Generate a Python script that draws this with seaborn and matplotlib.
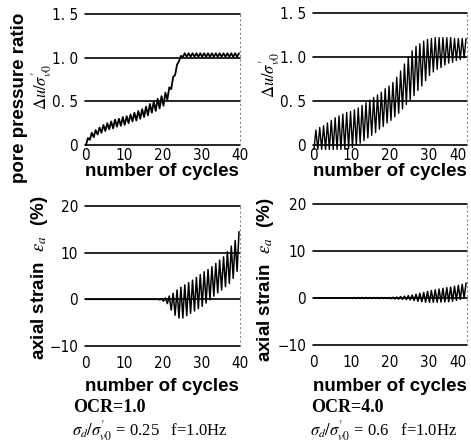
import numpy as np
import pandas as pd
import matplotlib
matplotlib.use("Agg")
import matplotlib.pyplot as plt
import seaborn as sns

# ---------------- data (per loading cycle) ----------------
cycles = list(range(40))
x_ticks = [0, 10, 20, 30, 40]

# OCR = 1.0 : pore pressure ratio, peak / trough of each cycle
pp1_upper = [0.08, 0.14, 0.17, 0.20, 0.23, 0.25, 0.27, 0.29, 0.30, 0.32,
             0.33, 0.35, 0.37, 0.39, 0.41, 0.44, 0.47, 0.50, 0.53, 0.56,
             0.60, 0.66, 0.78, 0.92, 1.02, 1.05, 1.05, 1.05, 1.05, 1.05,
             1.05, 1.05, 1.05, 1.05, 1.05, 1.05, 1.05, 1.05, 1.05, 1.05]
pp1_lower = [0.00, 0.06, 0.09, 0.12, 0.14, 0.16, 0.18, 0.19, 0.21, 0.22,
             0.23, 0.25, 0.27, 0.28, 0.30, 0.32, 0.34, 0.37, 0.39, 0.42,
             0.45, 0.52, 0.64, 0.80, 0.96, 1.01, 1.01, 1.01, 1.01, 1.01,
             1.01, 1.01, 1.01, 1.01, 1.01, 1.01, 1.01, 1.01, 1.01, 1.01]

# OCR = 4.0 : pore pressure ratio
pp4_upper = [0.17, 0.20, 0.22, 0.25, 0.28, 0.31, 0.33, 0.35, 0.37, 0.38,
             0.40, 0.42, 0.45, 0.48, 0.51, 0.54, 0.57, 0.60, 0.64, 0.67,
             0.71, 0.77, 0.84, 0.92, 1.00, 1.07, 1.12, 1.15, 1.18, 1.20,
             1.21, 1.22, 1.22, 1.22, 1.22, 1.22, 1.21, 1.21, 1.21, 1.21]
pp4_lower = [-0.05, -0.05, -0.05, -0.05, -0.05, -0.05, -0.05, -0.05, -0.04, -0.04,
             -0.03, 0.00, 0.02, 0.05, 0.08, 0.11, 0.14, 0.18, 0.21, 0.25,
             0.28, 0.32, 0.36, 0.41, 0.46, 0.51, 0.56, 0.62, 0.67, 0.73,
             0.79, 0.83, 0.86, 0.88, 0.91, 0.93, 0.94, 0.96, 0.97, 0.99]

# OCR = 1.0 : axial strain (%)
ea1_upper = [0.0, 0.0, 0.0, 0.0, 0.0, 0.0, 0.0, 0.0, 0.0, 0.0,
             0.0, 0.0, 0.0, 0.0, 0.0, 0.0, 0.0, 0.0, 0.0, 0.1,
             0.3, 0.7, 1.3, 2.0, 2.6, 3.1, 3.6, 4.1, 4.7, 5.3,
             5.9, 6.4, 7.0, 7.7, 8.4, 9.1, 10.2, 11.4, 12.6, 14.5]
ea1_lower = [0.0, 0.0, 0.0, 0.0, 0.0, 0.0, 0.0, 0.0, 0.0, 0.0,
             0.0, 0.0, 0.0, 0.0, 0.0, 0.0, 0.0, 0.0, 0.0, -0.1,
             -0.4, -0.9, -2.3, -3.4, -4.0, -4.0, -3.5, -3.0, -2.5, -2.0,
             -1.5, -0.8, -0.1, 0.7, 1.4, 2.0, 2.7, 3.4, 4.5, 6.0]

# OCR = 4.0 : axial strain (%)
ea4_upper = [0.05, 0.05, 0.05, 0.05, 0.05, 0.05, 0.05, 0.05, 0.05, 0.05,
             0.10, 0.10, 0.10, 0.10, 0.10, 0.10, 0.10, 0.10, 0.10, 0.10,
             0.15, 0.20, 0.30, 0.40, 0.50, 0.60, 0.80, 1.00, 1.20, 1.40,
             1.60, 1.75, 1.90, 2.05, 2.20, 2.30, 2.50, 2.70, 2.90, 3.20]
ea4_lower = [-0.05, -0.05, -0.05, -0.05, -0.05, -0.05, -0.05, -0.05, -0.05, -0.05,
             -0.10, -0.10, -0.10, -0.10, -0.10, -0.10, -0.10, -0.10, -0.10, -0.10,
             -0.15, -0.20, -0.25, -0.30, -0.35, -0.40, -0.55, -0.70, -0.80, -0.90,
             -0.90, -0.90, -0.90, -0.85, -0.85, -0.80, -0.70, -0.50, -0.30, 0.00]

pp_ticks = [0, 0.5, 1.0, 1.5]
pp_ticklabels = ["0", "0. 5", "1. 0", "1. 5"]
ea_ticks = [-10, 0, 10, 20]
ea_ticklabels = ["\u221210", "0", "10", "20"]

# ---------------- build long tables ----------------
def zigzag(upper, lower):
    c = np.asarray(cycles, dtype=float)
    x = np.empty(2 * len(c)); y = np.empty(2 * len(c))
    x[0::2] = c + 0.25; y[0::2] = lower
    x[1::2] = c + 0.75; y[1::2] = upper
    return pd.DataFrame({"cycle": x, "value": y})

df_pp1 = zigzag(pp1_upper, pp1_lower)
df_pp4 = zigzag(pp4_upper, pp4_lower)
df_ea1 = zigzag(ea1_upper, ea1_lower)
df_ea4 = zigzag(ea4_upper, ea4_lower)

# ---------------- figure ----------------
sns.set_style("white")
plt.rcParams["mathtext.fontset"] = "stix"
plt.rcParams["text.color"] = "black"
plt.rcParams["xtick.color"] = "black"
plt.rcParams["ytick.color"] = "black"

W, H = 471, 444
fig = plt.figure(figsize=(W / 100, H / 100), dpi=100)

def add_ax(l, r, t, b):
    return fig.add_axes([l / W, 1 - b / H, (r - l) / W, (b - t) / H])

tick_font = dict(family="DejaVu Sans", stretch="condensed", size=11)

def style(ax, yticks, ylabels, ylim, xpad):
    ax.set_xlim(0, 40)
    ax.set_ylim(*ylim)
    ax.set_xticks(x_ticks)
    ax.set_xticklabels([str(v) for v in x_ticks], **tick_font)
    ax.set_yticks(yticks)
    ax.set_yticklabels(ylabels, **tick_font)
    ax.tick_params(axis="both", length=0, colors="black")
    ax.tick_params(axis="y", pad=5)
    ax.tick_params(axis="x", pad=xpad)
    for s in ["left", "top", "bottom"]:
        ax.spines[s].set_visible(False)
    ax.spines["right"].set_visible(True)
    ax.spines["right"].set_color("#888888")
    ax.spines["right"].set_linestyle((0, (1, 3)))
    ax.spines["right"].set_linewidth(0.8)
    ax.grid(axis="y", color="black", lw=1.2, zorder=0)
    ax.grid(axis="x", visible=False)
    for gl in ax.get_ygridlines():
        gl.set_clip_on(False)
    ax.set_xlabel(""); ax.set_ylabel("")
    ax.set_facecolor("white")

ax_tl = add_ax(85, 240, 14, 145)
ax_tr = add_ax(313, 467, 13, 145)
ax_bl = add_ax(85, 240, 206, 346)
ax_br = add_ax(313, 467, 204, 345)

for ax, df, lw in [(ax_tl, df_pp1, 1.3), (ax_tr, df_pp4, 1.0),
                   (ax_bl, df_ea1, 1.1), (ax_br, df_ea4, 1.1)]:
    sns.lineplot(data=df, x="cycle", y="value", sort=False, estimator=None,
                 color="black", lw=lw, ax=ax, zorder=3)
    for ln in ax.get_lines():
        ln.set_clip_on(False)

style(ax_tl, pp_ticks, pp_ticklabels, (0, 1.5), 2)
style(ax_tr, pp_ticks, pp_ticklabels, (0, 1.5), 2)
style(ax_bl, ea_ticks, ea_ticklabels, (-10, 20), 7)
style(ax_br, ea_ticks, ea_ticklabels, (-10, 20), 7)
for lab in ax_tr.get_xticklabels() + ax_br.get_xticklabels():
    if lab.get_text() == "40":
        lab.set_ha("right")

def ftext(x, y, s, **kw):
    fig.text(x / W, 1 - y / H, s, **kw)

bold_sans = dict(family=["Liberation Sans", "DejaVu Sans"], weight="bold", size=13.5)

# x labels
for cx, cy in [(162, 171), (390, 171), (162, 386), (390, 386)]:
    ftext(cx, cy, "number of cycles", ha="center", va="center", **bold_sans)

# y labels
ftext(20, 98, "pore pressure ratio", rotation=90, ha="center", va="center", **bold_sans)
ftext(42, 87, r"$\Delta u/\sigma^{\prime}_{v0}$", rotation=90, ha="center", va="center", size=12)
ftext(270, 75, r"$\Delta u/\sigma^{\prime}_{v0}$", rotation=90, ha="center", va="center", size=12)
ftext(40, 278, r"axial strain  $\varepsilon_a$  (%)", rotation=90, ha="center", va="center", **bold_sans)
ftext(266, 280, r"axial strain  $\varepsilon_a$  (%)", rotation=90, ha="center", va="center", **bold_sans)

# conditions
serif = ["Liberation Serif", "DejaVu Serif"]
ftext(73, 407, "OCR=1.0", ha="left", va="center", family=serif, weight="bold", size=13)
ftext(311, 407, "OCR=4.0", ha="left", va="center", family=serif, weight="bold", size=13)
ftext(72, 431, r"$\sigma_d/\sigma^{\prime}_{v0}$ = 0.25   f=1.0Hz", ha="left", va="center", family=serif, size=12)
ftext(310, 431, r"$\sigma_d/\sigma^{\prime}_{v0}$ = 0.6   f=1.0Hz", ha="left", va="center", family=serif, size=12)

fig.savefig("out.png", dpi=100, facecolor="white")
